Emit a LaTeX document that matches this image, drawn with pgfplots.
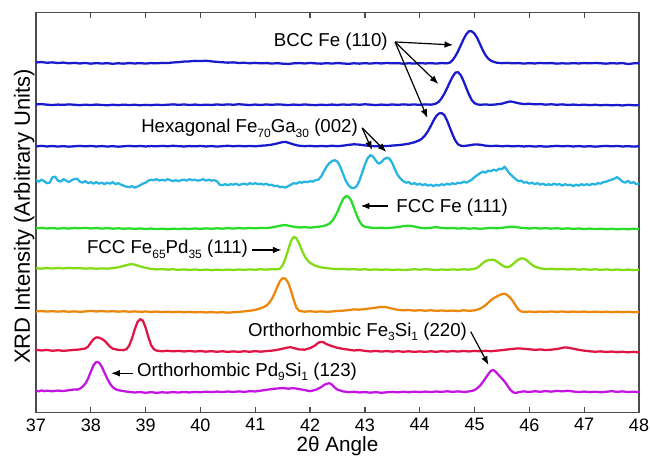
\documentclass[border=0pt]{standalone}
\usepackage{pgfplots}
\pgfplotsset{compat=1.18}
\usepackage{fontspec}
\setmainfont{Liberation Sans}
\usetikzlibrary{arrows.meta}
\definecolor{cblue}{RGB}{25,25,205}
\definecolor{ccyan}{RGB}{40,180,225}
\definecolor{cgreen}{RGB}{40,220,40}
\definecolor{clgreen}{RGB}{130,220,20}
\definecolor{corange}{RGB}{235,135,10}
\definecolor{cred}{RGB}{225,20,70}
\definecolor{cmag}{RGB}{195,20,225}
\newcommand{\sub}[1]{\raisebox{-3.2pt}{\fontsize{9}{10}\selectfont #1}}
\tikzset{
  arr/.style={-{Latex[length=6.5pt,width=5pt]}, line width=0.9pt, black},
  lab/.style={inner sep=0pt, font=\fontsize{14}{16}\selectfont},
}
\begin{document}
\begin{tikzpicture}
\begin{axis}[
  at={(0,0)}, anchor=south west,
  width=452.25pt, height=300pt, scale only axis,
  xmin=37, xmax=48, ymin=0, ymax=400,
  xtick={37,38,...,48}, ytick=\empty,
  tick align=inside, xtick pos=both, xticklabel pos=bottom,
  major tick length=4.3pt,
  axis line style={draw=black!70, line width=0.9pt},
  every tick/.style={draw=black!70, line width=0.9pt},
  /pgf/number format/assume math mode=true,
  xticklabel style={font=\fontsize{13.5}{15}\selectfont, inner sep=0pt, yshift=-4.2pt},
  xlabel={2θ Angle},
  xlabel style={at={(axis description cs:0.5,-0.0975)}, anchor=base, inner sep=0pt, font=\fontsize{15.5}{17}\selectfont},
  ylabel={XRD Intensity (Arbitrary Units)},
  ylabel style={at={(axis description cs:-0.01,0.49)}, anchor=base, inner sep=0pt, font=\fontsize{16.5}{18}\selectfont},
  every axis plot/.append style={line width=1.7pt, line join=round},
]
% trace 1
\addplot[cblue] coordinates {(37.0,350.2)(37.1,350.6)(37.2,349.9)(37.3,350.3)(37.4,349.6)(37.5,350.1)(37.6,349.3)(37.7,349.8)(37.8,349.2)(37.9,349.7)(38.0,349.0)(38.1,349.6)(38.2,349.1)(38.3,349.5)(38.4,348.9)(38.5,349.4)(38.6,349.0)(38.7,349.6)(38.8,349.2)(38.9,349.5)(39.0,349.1)(39.1,349.6)(39.2,349.3)(39.3,349.8)(39.4,349.6)(39.5,350.2)(39.6,350.5)(39.7,351.1)(39.8,351.3)(39.9,351.8)(40.0,351.6)(40.1,351.9)(40.2,351.3)(40.3,350.8)(40.4,350.4)(40.5,350.0)(40.6,350.3)(40.7,349.7)(40.8,349.9)(40.9,349.4)(41.0,349.8)(41.1,349.3)(41.2,349.6)(41.3,349.1)(41.4,349.5)(41.5,349.0)(41.6,348.7)(41.7,349.3)(41.8,349.6)(41.9,349.2)(42.0,349.7)(42.1,349.3)(42.2,349.0)(42.3,349.5)(42.4,349.1)(42.5,349.6)(42.6,349.2)(42.7,348.8)(42.8,349.4)(42.9,349.0)(43.0,349.5)(43.1,349.1)(43.2,349.6)(43.3,349.2)(43.4,349.7)(43.5,349.3)(43.6,349.5)(43.7,349.0)(43.8,349.4)(43.9,349.1)(44.0,349.6)(44.1,349.2)(44.2,349.5)(44.3,349.1)(44.4,349.6)(44.5,349.4)(44.55,350.0)(44.6,352.5)(44.65,356.5)(44.7,361.5)(44.75,367.5)(44.8,373.5)(44.85,378.5)(44.9,381.5)(44.95,381.3)(45.0,379.0)(45.05,374.5)(45.1,368.5)(45.15,362.5)(45.2,357.5)(45.25,354.0)(45.3,352.0)(45.35,350.8)(45.4,350.0)(45.5,349.5)(45.6,349.8)(45.7,349.3)(45.8,349.6)(45.9,349.1)(46.0,349.5)(46.1,349.2)(46.2,349.7)(46.3,349.3)(46.4,349.6)(46.5,349.0)(46.6,349.4)(46.7,349.1)(46.8,349.5)(46.9,349.2)(47.0,349.6)(47.1,349.3)(47.2,349.7)(47.3,349.4)(47.4,349.0)(47.5,349.5)(47.6,349.2)(47.7,349.6)(47.8,348.6)(47.9,349.3)(48.0,349.5)};
% trace 2
\addplot[cblue] coordinates {(37.0,308.2)(37.1,308.6)(37.2,308.0)(37.3,307.6)(37.4,308.1)(37.5,307.8)(37.6,308.3)(37.7,307.9)(37.8,307.5)(37.9,308.0)(38.0,307.6)(38.1,308.1)(38.2,307.7)(38.3,307.4)(38.4,307.9)(38.5,307.5)(38.6,308.0)(38.7,307.6)(38.8,307.9)(38.9,307.4)(39.0,307.8)(39.1,307.5)(39.2,308.0)(39.3,307.6)(39.4,307.9)(39.5,308.3)(39.6,307.8)(39.7,308.2)(39.8,307.7)(39.9,308.1)(40.0,307.6)(40.1,308.0)(40.2,307.7)(40.3,308.2)(40.4,307.8)(40.5,308.3)(40.6,307.9)(40.7,308.4)(40.8,308.0)(40.9,307.6)(41.0,308.1)(41.1,307.7)(41.2,308.2)(41.3,307.8)(41.4,308.3)(41.5,308.0)(41.6,307.6)(41.7,308.1)(41.8,307.7)(41.9,308.2)(42.0,307.8)(42.1,307.5)(42.2,308.0)(42.3,307.6)(42.4,308.1)(42.5,307.7)(42.6,308.2)(42.7,307.8)(42.8,308.3)(42.9,307.9)(43.0,308.4)(43.1,308.0)(43.2,307.6)(43.3,308.1)(43.4,307.7)(43.5,308.2)(43.6,307.8)(43.7,308.3)(43.8,307.9)(43.9,308.2)(44.0,307.8)(44.1,308.3)(44.2,308.0)(44.25,308.4)(44.3,309.2)(44.35,311.0)(44.4,314.5)(44.45,319.0)(44.5,324.5)(44.55,330.5)(44.6,336.0)(44.65,340.0)(44.7,340.5)(44.75,337.5)(44.8,331.5)(44.85,324.5)(44.9,318.0)(44.95,312.5)(45.0,309.5)(45.05,308.3)(45.1,307.9)(45.2,308.2)(45.3,307.8)(45.4,308.3)(45.5,309.0)(45.6,310.6)(45.65,311.2)(45.7,310.8)(45.8,309.4)(45.9,308.6)(46.0,308.9)(46.1,308.3)(46.2,308.6)(46.3,308.0)(46.4,308.4)(46.5,307.9)(46.6,308.3)(46.7,307.7)(46.8,308.1)(46.9,307.6)(47.0,308.0)(47.1,307.5)(47.2,307.9)(47.3,307.4)(47.4,307.8)(47.5,307.3)(47.6,307.7)(47.7,307.2)(47.8,307.8)(47.9,307.4)(48.0,307.6)};
% trace 3
\addplot[cblue] coordinates {(37.0,266.3)(37.1,266.8)(37.2,266.2)(37.3,266.6)(37.4,266.1)(37.5,266.5)(37.6,266.0)(37.7,266.4)(37.8,266.8)(37.9,266.3)(38.0,266.7)(38.1,266.2)(38.2,266.6)(38.3,266.1)(38.4,266.5)(38.5,266.0)(38.6,266.4)(38.7,266.8)(38.8,266.3)(38.9,266.7)(39.0,266.2)(39.1,266.6)(39.2,266.3)(39.3,266.8)(39.4,266.4)(39.5,266.9)(39.6,266.5)(39.7,266.2)(39.8,266.6)(39.9,266.3)(40.0,266.7)(40.1,266.2)(40.2,266.6)(40.3,266.1)(40.4,266.5)(40.5,266.9)(40.6,266.4)(40.7,266.8)(40.8,266.3)(40.9,266.7)(41.0,266.4)(41.1,266.9)(41.2,267.3)(41.3,268.0)(41.4,269.2)(41.5,270.6)(41.55,270.8)(41.6,270.0)(41.7,268.2)(41.8,266.9)(41.9,266.5)(42.0,266.8)(42.1,266.3)(42.2,266.7)(42.3,266.4)(42.4,266.9)(42.5,266.5)(42.6,267.0)(42.7,267.8)(42.8,268.4)(42.9,268.0)(43.0,267.3)(43.1,266.7)(43.2,266.4)(43.3,266.8)(43.4,266.6)(43.5,267.1)(43.6,267.5)(43.7,268.1)(43.8,269.0)(43.9,270.3)(44.0,272.5)(44.05,274.5)(44.1,277.5)(44.15,281.5)(44.2,286.5)(44.25,292.0)(44.3,296.5)(44.35,299.2)(44.4,299.6)(44.45,297.5)(44.5,292.0)(44.55,285.0)(44.6,278.0)(44.65,272.0)(44.7,268.3)(44.75,266.9)(44.8,266.6)(44.9,267.3)(45.0,268.2)(45.1,268.0)(45.2,267.0)(45.3,266.6)(45.4,266.9)(45.5,266.4)(45.6,266.8)(45.7,266.3)(45.8,266.7)(45.9,266.2)(46.0,266.6)(46.1,266.1)(46.2,266.5)(46.3,266.0)(46.4,266.4)(46.5,266.8)(46.6,266.3)(46.7,266.7)(46.8,266.2)(46.9,266.6)(47.0,266.1)(47.1,266.5)(47.2,266.0)(47.3,266.4)(47.4,266.8)(47.5,266.3)(47.6,266.7)(47.7,266.2)(47.8,266.5)(47.9,266.1)(48.0,266.4)};
% trace 4
\addplot[ccyan] coordinates {(37.0,232.5)(37.05,231.0)(37.1,233.0)(37.15,231.5)(37.2,229.5)(37.25,230.0)(37.3,235.5)(37.35,236.0)(37.4,232.0)(37.45,231.0)(37.5,233.5)(37.55,232.0)(37.6,230.5)(37.65,232.5)(37.7,233.5)(37.75,234.0)(37.8,231.0)(37.85,230.0)(37.9,231.5)(37.95,229.5)(38.0,230.5)(38.05,229.0)(38.1,230.5)(38.15,229.0)(38.2,230.0)(38.25,228.5)(38.3,230.0)(38.35,229.0)(38.4,230.5)(38.45,228.5)(38.5,229.5)(38.55,228.0)(38.6,227.0)(38.65,226.0)(38.7,225.5)(38.75,226.5)(38.8,225.0)(38.85,226.0)(38.9,227.5)(38.95,229.0)(39.0,230.0)(39.05,232.0)(39.1,233.0)(39.15,232.5)(39.2,233.5)(39.25,232.0)(39.3,233.0)(39.35,232.0)(39.4,233.5)(39.45,232.5)(39.5,231.5)(39.55,232.5)(39.6,231.5)(39.65,232.5)(39.7,233.0)(39.75,232.0)(39.8,233.5)(39.85,232.5)(39.9,233.0)(39.95,232.0)(40.0,232.5)(40.05,233.5)(40.1,232.0)(40.15,233.0)(40.2,232.0)(40.25,232.5)(40.3,231.5)(40.35,228.0)(40.4,227.5)(40.45,228.5)(40.5,227.5)(40.55,228.5)(40.6,228.0)(40.65,229.0)(40.7,227.5)(40.75,228.5)(40.8,229.0)(40.85,228.0)(40.9,229.5)(40.95,228.5)(41.0,229.5)(41.05,228.5)(41.1,229.0)(41.15,228.0)(41.2,229.0)(41.25,227.5)(41.3,228.0)(41.35,226.5)(41.4,227.0)(41.45,225.5)(41.5,226.0)(41.55,225.0)(41.6,226.5)(41.65,228.0)(41.7,229.5)(41.75,229.0)(41.8,230.5)(41.85,230.0)(41.9,231.0)(41.95,230.5)(42.0,231.5)(42.05,231.0)(42.1,232.5)(42.15,233.0)(42.2,236.0)(42.25,241.0)(42.3,246.0)(42.35,249.5)(42.4,251.5)(42.45,252.5)(42.5,251.0)(42.55,246.0)(42.6,239.0)(42.65,232.0)(42.7,227.5)(42.75,225.0)(42.8,224.5)(42.85,226.5)(42.9,232.0)(42.95,240.0)(43.0,248.0)(43.05,254.5)(43.1,257.5)(43.15,256.0)(43.2,252.0)(43.25,249.0)(43.3,250.5)(43.35,253.5)(43.4,255.0)(43.45,254.0)(43.5,249.5)(43.55,243.0)(43.6,237.5)(43.65,234.0)(43.7,231.5)(43.75,230.0)(43.8,230.5)(43.85,228.5)(43.9,229.5)(43.95,228.0)(44.0,229.0)(44.05,227.5)(44.1,228.5)(44.15,227.0)(44.2,228.0)(44.25,226.5)(44.3,228.0)(44.35,227.0)(44.4,228.5)(44.45,227.5)(44.5,229.0)(44.55,228.0)(44.6,229.5)(44.65,228.5)(44.7,230.0)(44.75,229.5)(44.8,231.0)(44.85,230.0)(44.9,231.5)(44.95,233.0)(45.0,235.5)(45.05,237.5)(45.1,239.5)(45.15,241.0)(45.2,240.0)(45.25,242.0)(45.3,241.5)(45.35,243.0)(45.4,242.0)(45.45,244.0)(45.5,243.5)(45.55,246.0)(45.6,242.0)(45.65,238.5)(45.7,236.0)(45.75,233.5)(45.8,231.5)(45.85,232.0)(45.9,230.0)(45.95,230.5)(46.0,229.0)(46.05,230.0)(46.1,228.5)(46.15,229.5)(46.2,228.0)(46.25,229.0)(46.3,227.5)(46.35,228.5)(46.4,227.5)(46.45,229.0)(46.5,228.0)(46.55,228.5)(46.6,227.0)(46.65,228.5)(46.7,227.5)(46.75,228.0)(46.8,226.5)(46.85,228.0)(46.9,227.0)(46.95,228.5)(47.0,227.5)(47.05,228.5)(47.1,227.5)(47.15,229.0)(47.2,228.0)(47.25,229.5)(47.3,229.0)(47.35,230.5)(47.4,231.0)(47.45,232.0)(47.5,233.0)(47.55,234.0)(47.6,235.5)(47.65,233.5)(47.7,231.0)(47.75,230.0)(47.8,232.0)(47.85,229.5)(47.9,230.5)(47.95,228.5)(48.0,229.0)};
% trace 5
\addplot[cgreen] coordinates {(37.0,184.3)(37.1,184.8)(37.2,184.2)(37.3,184.6)(37.4,184.0)(37.5,184.5)(37.6,184.1)(37.7,184.7)(37.8,184.3)(37.9,184.8)(38.0,184.2)(38.1,184.6)(38.2,184.1)(38.3,184.5)(38.4,184.0)(38.5,184.4)(38.6,183.9)(38.7,184.3)(38.8,183.8)(38.9,184.2)(39.0,183.7)(39.1,184.1)(39.2,183.6)(39.3,184.0)(39.4,183.5)(39.5,184.0)(39.6,183.6)(39.7,184.1)(39.8,183.7)(39.9,184.2)(40.0,183.8)(40.1,184.3)(40.2,183.9)(40.3,184.4)(40.4,184.0)(40.5,184.5)(40.6,184.1)(40.7,184.6)(40.8,184.2)(40.9,184.7)(41.0,184.3)(41.1,184.8)(41.2,184.6)(41.3,185.2)(41.4,186.3)(41.5,187.4)(41.55,187.6)(41.6,187.0)(41.7,185.9)(41.8,185.2)(41.9,185.5)(42.0,185.0)(42.1,185.6)(42.2,186.2)(42.3,187.5)(42.35,189.0)(42.4,191.5)(42.45,195.5)(42.5,201.0)(42.55,207.5)(42.6,213.5)(42.65,216.5)(42.7,216.0)(42.75,212.0)(42.8,205.0)(42.85,197.5)(42.9,191.5)(42.95,187.5)(43.0,185.8)(43.1,185.0)(43.2,184.6)(43.3,185.0)(43.4,184.5)(43.5,185.0)(43.6,185.6)(43.7,186.5)(43.8,187.0)(43.9,186.2)(44.0,185.0)(44.1,184.4)(44.2,184.9)(44.3,185.5)(44.4,184.8)(44.5,184.3)(44.6,184.7)(44.7,184.1)(44.8,184.5)(44.9,184.0)(45.0,184.4)(45.1,183.9)(45.2,184.3)(45.3,184.8)(45.4,184.4)(45.5,184.9)(45.6,185.5)(45.7,186.0)(45.8,185.2)(45.9,184.6)(46.0,184.2)(46.1,184.7)(46.2,184.1)(46.3,184.5)(46.4,184.0)(46.5,184.4)(46.6,183.9)(46.7,184.3)(46.8,183.8)(46.9,184.2)(47.0,183.7)(47.1,184.1)(47.2,183.6)(47.3,184.0)(47.4,183.5)(47.5,183.9)(47.6,183.4)(47.7,183.8)(47.8,183.4)(47.9,183.9)(48.0,183.6)};
% trace 6
\addplot[clgreen] coordinates {(37.0,144.5)(37.1,144.0)(37.2,144.6)(37.3,144.1)(37.4,144.7)(37.5,144.2)(37.6,144.8)(37.7,144.3)(37.8,144.6)(37.9,144.0)(38.0,144.4)(38.1,143.9)(38.2,144.3)(38.3,144.0)(38.4,144.6)(38.5,145.3)(38.6,146.8)(38.7,148.2)(38.75,148.5)(38.8,148.0)(38.9,146.3)(39.0,144.8)(39.1,143.8)(39.2,143.2)(39.3,143.6)(39.4,143.0)(39.5,143.4)(39.6,142.8)(39.7,143.3)(39.8,142.7)(39.9,143.2)(40.0,142.6)(40.1,143.1)(40.2,142.5)(40.3,143.0)(40.4,142.6)(40.5,143.1)(40.6,142.7)(40.7,143.2)(40.8,142.8)(40.9,143.3)(41.0,142.9)(41.1,143.4)(41.2,143.0)(41.3,143.5)(41.4,143.3)(41.45,144.0)(41.5,147.5)(41.55,154.0)(41.6,163.0)(41.65,171.5)(41.7,175.8)(41.75,174.5)(41.8,169.0)(41.85,162.5)(41.9,156.5)(41.95,152.5)(42.0,149.8)(42.1,146.8)(42.2,145.3)(42.3,144.5)(42.4,144.0)(42.5,143.5)(42.6,143.8)(42.7,143.2)(42.8,143.6)(42.9,143.0)(43.0,143.4)(43.1,142.9)(43.2,143.3)(43.3,142.8)(43.4,143.2)(43.5,142.7)(43.6,143.1)(43.7,142.6)(43.8,143.0)(43.9,143.4)(44.0,143.0)(44.1,143.5)(44.2,143.1)(44.3,142.7)(44.4,143.2)(44.5,142.8)(44.6,143.3)(44.7,142.9)(44.8,143.4)(44.9,143.0)(45.0,143.8)(45.05,145.0)(45.1,147.0)(45.15,149.5)(45.2,151.5)(45.25,152.5)(45.3,153.0)(45.35,152.8)(45.4,151.5)(45.45,149.5)(45.5,147.5)(45.55,146.0)(45.6,145.5)(45.65,146.5)(45.7,148.5)(45.75,151.0)(45.8,153.0)(45.85,154.3)(45.9,154.0)(45.95,152.5)(46.0,150.0)(46.05,147.8)(46.1,146.0)(46.2,144.3)(46.3,143.5)(46.4,143.9)(46.5,143.3)(46.6,143.7)(46.7,143.2)(46.8,143.6)(46.9,143.0)(47.0,143.5)(47.1,142.9)(47.2,143.4)(47.3,142.8)(47.4,143.3)(47.5,142.7)(47.6,143.2)(47.7,142.6)(47.8,143.1)(47.9,142.5)(48.0,143.0)};
% trace 7
\addplot[corange] coordinates {(37.0,101.2)(37.1,101.6)(37.2,101.1)(37.3,101.5)(37.4,101.0)(37.5,101.4)(37.6,100.9)(37.7,101.3)(37.8,100.8)(37.9,101.2)(38.0,101.7)(38.1,101.2)(38.2,101.6)(38.3,101.1)(38.4,101.5)(38.5,101.0)(38.6,101.4)(38.7,100.9)(38.8,101.3)(38.9,100.8)(39.0,101.2)(39.1,100.7)(39.2,101.1)(39.3,100.6)(39.4,101.0)(39.5,100.5)(39.6,100.9)(39.7,100.4)(39.8,100.8)(39.9,100.3)(40.0,100.7)(40.1,100.2)(40.2,100.6)(40.3,100.1)(40.4,100.5)(40.5,100.0)(40.6,100.4)(40.7,100.8)(40.8,101.3)(40.9,101.9)(41.0,102.8)(41.05,103.6)(41.1,104.5)(41.15,105.5)(41.2,107.0)(41.25,109.5)(41.3,113.5)(41.35,119.0)(41.4,125.5)(41.45,131.5)(41.5,134.5)(41.55,134.0)(41.6,130.0)(41.65,122.5)(41.7,113.0)(41.75,105.0)(41.8,101.8)(41.9,101.0)(42.0,101.4)(42.1,100.9)(42.2,101.3)(42.3,100.8)(42.4,101.2)(42.5,101.7)(42.6,102.0)(42.7,102.5)(42.8,103.3)(42.9,103.0)(43.0,103.6)(43.1,104.3)(43.2,105.0)(43.3,105.8)(43.4,105.4)(43.5,104.0)(43.6,102.8)(43.7,102.3)(43.8,102.7)(43.9,102.0)(44.0,102.5)(44.1,101.9)(44.2,102.4)(44.3,101.8)(44.4,102.2)(44.5,101.7)(44.6,102.1)(44.7,101.6)(44.8,102.4)(44.9,101.8)(45.0,102.3)(45.05,103.0)(45.1,104.0)(45.15,105.5)(45.2,107.5)(45.25,110.0)(45.3,112.5)(45.35,114.5)(45.4,116.0)(45.45,117.5)(45.5,118.5)(45.55,119.0)(45.6,117.5)(45.65,115.0)(45.7,111.5)(45.75,107.0)(45.8,103.0)(45.85,101.2)(45.9,100.8)(46.0,101.1)(46.1,100.7)(46.2,101.1)(46.3,100.8)(46.4,101.2)(46.5,100.8)(46.6,101.2)(46.7,100.7)(46.8,101.1)(46.9,100.7)(47.0,101.1)(47.1,100.6)(47.2,101.0)(47.3,100.6)(47.4,101.0)(47.5,100.5)(47.6,100.9)(47.7,100.5)(47.8,100.9)(47.9,100.4)(48.0,100.8)};
% trace 8
\addplot[cred] coordinates {(37.0,62.8)(37.1,62.2)(37.2,62.7)(37.3,61.9)(37.4,62.4)(37.5,61.8)(37.6,62.3)(37.7,62.8)(37.8,63.2)(37.9,64.2)(37.95,66.0)(38.0,70.0)(38.05,73.5)(38.1,75.3)(38.15,75.0)(38.2,73.8)(38.25,72.0)(38.3,69.0)(38.35,66.0)(38.4,64.0)(38.5,62.8)(38.6,62.5)(38.65,63.5)(38.7,67.0)(38.75,74.0)(38.8,83.0)(38.85,90.5)(38.9,93.5)(38.95,92.0)(39.0,85.0)(39.05,75.5)(39.1,67.5)(39.15,63.5)(39.2,62.0)(39.3,61.4)(39.4,61.9)(39.5,61.3)(39.6,61.8)(39.7,61.2)(39.8,61.7)(39.9,61.1)(40.0,61.6)(40.1,61.0)(40.2,61.5)(40.3,60.9)(40.4,61.4)(40.5,60.8)(40.6,61.3)(40.7,60.8)(40.8,61.4)(40.9,60.9)(41.0,61.5)(41.1,61.0)(41.2,61.6)(41.3,62.0)(41.4,62.8)(41.5,64.0)(41.6,65.2)(41.65,65.4)(41.7,64.6)(41.8,63.2)(41.9,63.0)(42.0,64.5)(42.1,67.5)(42.15,70.0)(42.2,70.8)(42.25,70.3)(42.3,68.5)(42.4,66.5)(42.5,64.8)(42.6,63.8)(42.7,63.0)(42.8,62.2)(42.9,62.6)(43.0,61.8)(43.1,61.2)(43.2,61.7)(43.3,61.1)(43.4,61.6)(43.5,61.0)(43.6,61.5)(43.7,60.9)(43.8,61.4)(43.9,60.8)(44.0,61.3)(44.1,60.8)(44.2,61.4)(44.3,60.9)(44.4,61.5)(44.5,61.0)(44.6,61.6)(44.7,61.1)(44.8,61.7)(44.9,61.2)(45.0,61.8)(45.1,61.3)(45.2,61.9)(45.3,61.4)(45.4,62.0)(45.5,62.5)(45.6,63.2)(45.7,63.8)(45.8,64.3)(45.9,63.9)(46.0,63.4)(46.1,62.8)(46.2,63.2)(46.3,62.6)(46.4,63.0)(46.5,63.6)(46.6,64.8)(46.65,65.3)(46.7,65.0)(46.8,64.0)(46.9,62.8)(47.0,62.0)(47.1,61.4)(47.2,60.9)(47.3,61.3)(47.4,60.7)(47.5,61.1)(47.6,60.5)(47.7,60.9)(47.8,60.4)(47.9,60.8)(48.0,60.3)};
% trace 9
\addplot[cmag] coordinates {(37.0,22.0)(37.05,21.3)(37.1,22.3)(37.15,21.5)(37.2,22.0)(37.3,21.4)(37.4,22.1)(37.5,21.6)(37.6,22.5)(37.7,23.2)(37.75,23.0)(37.8,24.0)(37.85,26.0)(37.9,29.0)(37.95,34.0)(38.0,41.0)(38.05,47.5)(38.1,50.8)(38.15,50.0)(38.2,46.0)(38.25,40.0)(38.3,34.0)(38.35,29.0)(38.4,25.5)(38.45,23.5)(38.5,22.5)(38.6,21.5)(38.7,20.8)(38.8,20.2)(38.9,20.6)(39.0,19.9)(39.1,20.5)(39.2,19.8)(39.3,20.4)(39.4,20.0)(39.5,20.6)(39.6,20.1)(39.7,20.7)(39.8,20.2)(39.9,20.8)(40.0,20.4)(40.1,21.0)(40.2,20.5)(40.3,21.1)(40.4,20.6)(40.5,21.2)(40.6,20.7)(40.7,21.3)(40.8,20.8)(40.9,21.5)(41.0,21.2)(41.1,22.0)(41.2,22.8)(41.3,23.6)(41.4,24.2)(41.5,24.6)(41.6,24.0)(41.7,24.5)(41.8,23.6)(41.9,22.6)(42.0,21.5)(42.1,22.8)(42.2,25.5)(42.25,27.5)(42.3,28.8)(42.35,29.5)(42.4,28.0)(42.45,25.0)(42.5,23.0)(42.6,21.3)(42.7,20.5)(42.8,20.9)(42.9,20.2)(43.0,20.6)(43.1,20.0)(43.2,20.5)(43.3,19.9)(43.4,20.4)(43.5,20.8)(43.6,20.3)(43.7,20.9)(43.8,20.4)(43.9,21.0)(44.0,20.5)(44.1,21.1)(44.2,20.6)(44.3,21.2)(44.4,20.7)(44.5,21.4)(44.6,20.8)(44.7,21.3)(44.8,20.7)(44.9,21.2)(45.0,22.5)(45.05,24.5)(45.1,27.0)(45.15,30.5)(45.2,34.5)(45.25,38.5)(45.3,42.0)(45.35,42.5)(45.4,40.0)(45.45,37.0)(45.5,34.0)(45.55,31.0)(45.6,27.0)(45.65,23.0)(45.7,20.5)(45.75,19.5)(45.8,20.5)(45.9,21.3)(46.0,20.7)(46.1,21.4)(46.2,20.9)(46.3,21.6)(46.4,21.0)(46.5,21.8)(46.6,21.3)(46.7,21.9)(46.8,21.2)(46.9,20.6)(47.0,21.1)(47.1,20.5)(47.2,21.0)(47.3,20.4)(47.4,20.9)(47.5,21.5)(47.6,20.8)(47.7,21.3)(47.8,20.6)(47.9,21.0)(48.0,20.5)};
% annotations
\node[lab, anchor=base east] at (axis cs:43.42,366) {BCC Fe (110)};
\draw[arr] (axis cs:43.55,370.7) -- (axis cs:44.61,367.7);
\draw[arr] (axis cs:43.55,370.7) -- (axis cs:44.34,328.7);
\draw[arr] (axis cs:43.55,370.7) -- (axis cs:44.14,294.7);
\node[lab, anchor=base east] at (axis cs:42.876,279.7) {Hexagonal Fe\sub{70}Ga\sub{30} (002)};
\draw[arr] (axis cs:42.95,284.7) -- (axis cs:43.13,262.7);
\draw[arr] (axis cs:42.95,284.7) -- (axis cs:43.39,260.7);
\node[lab, anchor=base west] at (axis cs:43.57,200) {FCC Fe (111)};
\draw[arr] (axis cs:43.42,206.7) -- (axis cs:42.925,206.7);
\node[lab, anchor=base east] at (axis cs:40.87,158.7) {FCC Fe\sub{65}Pd\sub{35} (111)};
\draw[arr] (axis cs:40.94,162.7) -- (axis cs:41.48,162.7);
\node[lab, anchor=base east] at (axis cs:44.865,76) {Orthorhombic Fe\sub{3}Si\sub{1} (220)};
\draw[arr] (axis cs:44.93,81) -- (axis cs:45.254,47.7);
\node[lab, anchor=base west] at (axis cs:38.84,36) {Orthorhombic Pd\sub{9}Si\sub{1} (123)};
\draw[arr] (axis cs:38.776,39.4) -- (axis cs:38.37,39.4);
\end{axis}
\pgfresetboundingbox
\path (-27pt,-33.2pt) rectangle (460.5pt,309.5pt);
\end{tikzpicture}
\end{document}
